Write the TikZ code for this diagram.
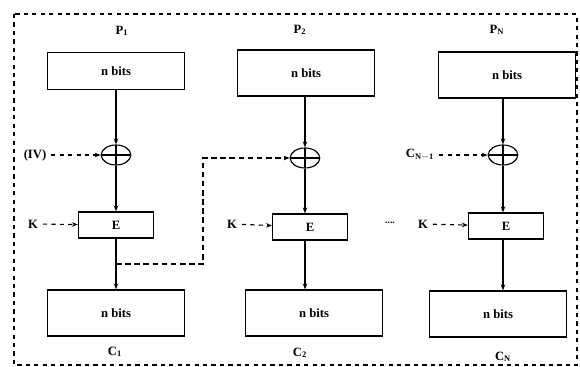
\documentclass[tikz,border=0pt]{standalone}
\usepackage{fontspec}
\setmainfont{Liberation Serif}
\usepackage{tikz}
\usetikzlibrary{arrows.meta,positioning,shapes.geometric}

\begin{document}
\begin{tikzpicture}[x=0.025cm, y=-0.025cm,
    every node/.style={font=\small\bfseries},
    bitbox/.style={draw, thick, inner sep=1pt, minimum width=3.425cm, minimum height=1.15cm},
    encbox/.style={draw, thick, inner sep=1pt, minimum width=1.875cm, minimum height=0.65cm},
    xor/.style={draw, thick, ellipse, inner sep=0pt, minimum width=0.74cm, minimum height=0.5cm,
        path picture={\draw[thick] (path picture bounding box.north) -- (path picture bounding box.south)
            (path picture bounding box.west) -- (path picture bounding box.east);}},
    arrow/.style={-{Stealth[length=1.5mm]}, thick},
    dasharrow/.style={-{Stealth[length=1.5mm]}, thick, dashed}
]
\useasboundingbox (0,0) rectangle (580,367);
\draw[thick, dashed] (14,14) rectangle (577,365);

% plaintext blocks
\node (p1lab) at (122,31) {P$_\mathbf{1}$};
\node (p2lab) at (300,30) {P$_\mathbf{2}$};
\node (pNlab) at (497,30) {P$_\mathbf{N}$};
\node[bitbox, minimum height=0.925cm] (p1) at (116,71) {n bits};
\node[bitbox] (p2) at (306,73) {n bits};
\node[bitbox] (pN) at (507,75) {n bits};

% xor
\node[xor] (x1) at (116,155) {};
\node[xor] (x2) at (305,158) {};
\node[xor] (xN) at (503,155) {};

% encryption
\node[encbox] (e1) at (116,225) {E};
\node[encbox] (e2) at (310,227) {E};
\node[encbox] (eN) at (506,226) {E};

% ciphertext blocks
\node[bitbox] (c1) at (116,313) {n bits};
\node[bitbox] (c2) at (314,313) {n bits};
\node[bitbox] (cN) at (498,314) {n bits};
\node (c1lab) at (115,352) {C$_\mathbf{1}$};
\node (c2lab) at (300,353) {C$_\mathbf{2}$};
\node (cNlab) at (503,357) {C$_\mathbf{N}$};

% side inputs
\node (iv) at (35,155) {(IV)};
\node (cprev) at (420,155) {C$_\mathbf{N-1}$};
\node (k1) at (33,224) {K};
\node (k2) at (232,224) {K};
\node (kN) at (423,224) {K};
\node[font=\scriptsize\bfseries] (dots) at (390,223) {....};

\draw[arrow] (p1) -- (x1);
\draw[arrow] (x1) -- (e1);
\draw[arrow] (e1) -- (c1);
\draw[arrow] (p2.south -| x2) -- (x2);
\draw[arrow] (x2) -- (e2.north -| x2);
\draw[arrow] (e2.south -| x2) -- (c2.north -| x2);
\draw[arrow] (pN.south -| xN) -- (xN);
\draw[arrow] (xN) -- (eN.north -| xN);
\draw[arrow] (eN.south -| xN) -- (cN.north -| xN);

\draw[dasharrow] (iv) -- (x1);
\draw[dasharrow] (cprev) -- (xN);
\draw[dasharrow] (k1) -- (e1);
\draw[dasharrow] (k2) -- (e2);
\draw[dasharrow] (kN) -- (eN);

% chaining
\coordinate (fb) at (116,264);
\coordinate (fbtop) at (203,158);
\draw[dasharrow, line width=1.4pt, dash pattern=on 4pt off 2.5pt] (fb) -| (fbtop) -- (x2);
\end{tikzpicture}
\end{document}
